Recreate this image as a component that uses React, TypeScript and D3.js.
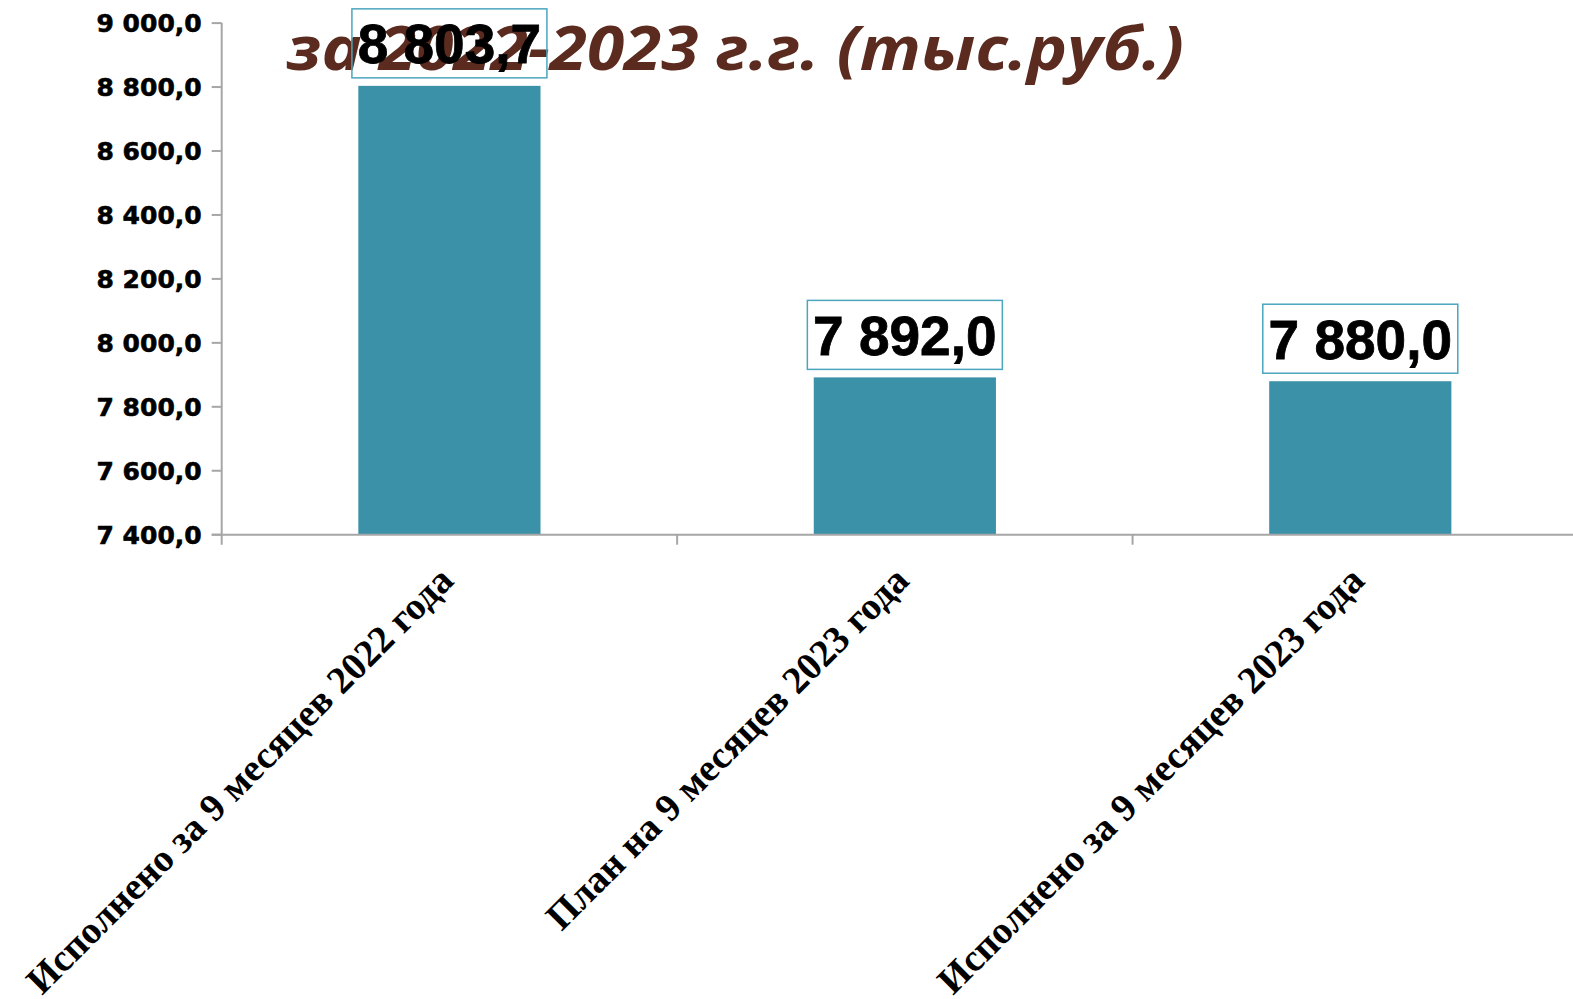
import React from "react";
import * as d3 from "d3";

const categories = [
  "Исполнено за 9 месяцев 2022 года",
  "План на 9 месяцев 2023 года",
  "Исполнено за 9 месяцев 2023 года",
];
const values = [8803.7, 7892.0, 7880.0];
const yTicks = [7400, 7600, 7800, 8000, 8200, 8400, 8600, 8800, 9000];
const titleText = "за 2022-2023 г.г. (тыс.руб.)";

const W = 1573;
const H = 999;
const axisX = 221.7;
const plotRight = 1588;
const yTop = 23.1;
const yBottom = 534.7;

const locale = d3.formatLocale({
  decimal: ",",
  thousands: " ",
  grouping: [3],
  currency: ["", ""],
});
const fmt = locale.format(",.1f");

export default function App() {
  const x = d3.scaleBand<string>().domain(categories).range([axisX, plotRight]).padding(0);
  const y = d3.scaleLinear().domain([7400, 9000]).range([yBottom, yTop]);
  const bw = x.bandwidth();
  const barW = bw * 0.4;
  const boxW = 195;
  const boxH = 69;
  const axisColor = "#A6A6A6";
  const bounds = categories.map((c) => x(c) as number).concat([plotRight]);

  return (
    <svg
      width={W}
      height={H}
      style={{ position: "absolute", left: 0, top: 0, background: "#fff" }}
    >
      <rect x={0} y={0} width={W} height={H} fill="#fff" />
      {/* title */}
      <text
        x={286}
        y={70}
        textLength={898}
        lengthAdjust="spacingAndGlyphs"
        fontFamily="'Open Sans', 'Noto Sans', sans-serif"
        fontWeight={700}
        fontStyle="italic"
        fontSize={60}
        fill="#5B2B1F"
      >
        {titleText}
      </text>

      {/* bars */}
      {categories.map((c, i) => (
        <rect
          key={c}
          x={(x(c) as number) + (bw - barW) / 2}
          y={y(values[i])}
          width={barW}
          height={yBottom - y(values[i])}
          fill="#3A91A8"
        />
      ))}

      {/* y axis */}
      <line x1={axisX} x2={axisX} y1={yTop} y2={yBottom + 10} stroke={axisColor} strokeWidth={2} />
      {yTicks.map((t) => (
        <g key={t}>
          <line x1={axisX - 10} x2={axisX} y1={y(t)} y2={y(t)} stroke={axisColor} strokeWidth={2} />
          <text
            x={axisX - 20}
            y={y(t)}
            dy="0.36em"
            textAnchor="end"
            fontFamily="'DejaVu Sans', sans-serif"
            fontWeight={700}
            fontSize={25}
            fill="#000"
            stroke="#000"
            strokeWidth={0.6}
          >
            {fmt(t)}
          </text>
        </g>
      ))}

      {/* x axis */}
      <line x1={axisX - 10} x2={plotRight} y1={yBottom} y2={yBottom} stroke={axisColor} strokeWidth={2} />
      {bounds.slice(1).map((b, i) => (
        <line key={i} x1={b} x2={b} y1={yBottom} y2={yBottom + 10} stroke={axisColor} strokeWidth={2} />
      ))}

      {/* category labels */}
      {categories.map((c) => {
        const cx = (x(c) as number) + bw / 2 + 6;
        const cy = yBottom + 48;
        return (
          <text
            key={c}
            transform={`translate(${cx},${cy}) rotate(-45)`}
            textAnchor="end"
            fontFamily="'Liberation Serif', 'Times New Roman', serif"
            fontWeight={700}
            fontSize={38.5}
            fill="#000"
          >
            {c}
          </text>
        );
      })}

      {/* value labels */}
      {categories.map((c, i) => {
        const cx = (x(c) as number) + bw / 2;
        const bottom = y(values[i]) - 8;
        return (
          <g key={c}>
            <rect
              x={cx - boxW / 2}
              y={bottom - boxH}
              width={boxW}
              height={boxH}
              fill="none"
              stroke="#4BA6BE"
              strokeWidth={1.5}
            />
            <text
              x={cx}
              y={bottom - boxH / 2}
              dy="0.36em"
              textAnchor="middle"
              fontFamily="'Liberation Sans', Arial, sans-serif"
              fontWeight={700}
              fontSize={55}
              fill="#000"
              stroke="#000"
              strokeWidth={0.8}
            >
              {fmt(values[i])}
            </text>
          </g>
        );
      })}
    </svg>
  );
}
